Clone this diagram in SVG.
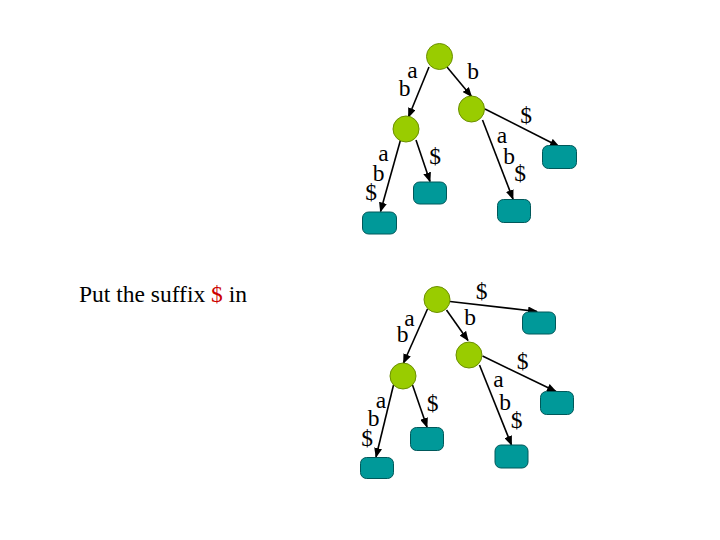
<svg xmlns="http://www.w3.org/2000/svg" width="720" height="540" viewBox="0 0 720 540">
<style>
.in{fill:#99cc00;stroke:#6b8f00;stroke-width:1}
.lf{fill:#009999;stroke:#00585a;stroke-width:1}
.e{stroke:#000;stroke-width:1.6;fill:none;marker-end:url(#ah)}
text{font-family:"Liberation Serif","Times New Roman",serif;font-size:23.5px;fill:#000;text-anchor:middle}
.red{fill:#cc0000}
</style>
<defs>
<marker id="ah" markerWidth="10" markerHeight="8" refX="9" refY="4" orient="auto" markerUnits="userSpaceOnUse">
<path d="M0,0 L10,4 L0,8 Z" fill="#000"/>
</marker>
</defs>
<rect width="720" height="540" fill="#fff"/>
<text x="79" y="302" style="text-anchor:start">Put the suffix <tspan class="red">$</tspan> in</text>
<g id="edges">
<line class="e" x1="429" y1="67" x2="408.5" y2="117"/>
<line class="e" x1="447" y1="67" x2="471.5" y2="96.5"/>
<line class="e" x1="485" y1="109" x2="559" y2="146.5"/>
<line class="e" x1="482.5" y1="120" x2="513" y2="199"/>
<line class="e" x1="400.5" y1="140" x2="380.5" y2="211.5"/>
<line class="e" x1="416" y1="140" x2="430" y2="181.5"/>
<line class="e" x1="450" y1="301.5" x2="537" y2="311.5"/>
<line class="e" x1="427.5" y1="309" x2="403.5" y2="363"/>
<line class="e" x1="446.5" y1="310" x2="468" y2="340.5"/>
<line class="e" x1="482.5" y1="356" x2="556" y2="391.5"/>
<line class="e" x1="479.5" y1="365" x2="511.5" y2="445"/>
<line class="e" x1="393.5" y1="385" x2="376" y2="457"/>
<line class="e" x1="412.5" y1="385" x2="427" y2="427"/>
</g>
<g id="top-root"><circle class="in" cx="439.5" cy="56.5" r="13"/></g>
<g id="top-right"><circle class="in" cx="471.5" cy="109" r="13"/></g>
<g id="top-left"><circle class="in" cx="406" cy="129" r="13"/></g>
<g id="top-leaf-ll"><rect class="lf" x="362.5" y="212" width="34" height="22" rx="6"/></g>
<g id="top-leaf-lr"><rect class="lf" x="413.5" y="182" width="33" height="22" rx="6"/></g>
<g id="top-leaf-rl"><rect class="lf" x="497.5" y="199.5" width="33" height="23" rx="6"/></g>
<g id="top-leaf-rr"><rect class="lf" x="542.5" y="145.5" width="34" height="23" rx="6"/></g>
<g id="bot-root"><circle class="in" cx="437" cy="299.5" r="13"/></g>
<g id="bot-right"><circle class="in" cx="469" cy="355" r="13"/></g>
<g id="bot-left"><circle class="in" cx="403" cy="376" r="13"/></g>
<g id="bot-leaf-top"><rect class="lf" x="522.5" y="312" width="33" height="22" rx="6"/></g>
<g id="bot-leaf-rr"><rect class="lf" x="540.5" y="391.5" width="33" height="23" rx="6"/></g>
<g id="bot-leaf-rl"><rect class="lf" x="495" y="445" width="33" height="23" rx="6"/></g>
<g id="bot-leaf-lr"><rect class="lf" x="410.5" y="427.5" width="33" height="23" rx="6"/></g>
<g id="bot-leaf-ll"><rect class="lf" x="360.5" y="457.5" width="33" height="21" rx="6"/></g>
<g id="labels">
<text x="412.5" y="78">a</text>
<text x="404.5" y="96">b</text>
<text x="473" y="79">b</text>
<text x="526" y="123">$</text>
<text x="502" y="143">a</text>
<text x="509" y="164">b</text>
<text x="520" y="181">$</text>
<text x="383.5" y="161">a</text>
<text x="378.5" y="181">b</text>
<text x="371" y="199.5">$</text>
<text x="435" y="164">$</text>
<text x="481.5" y="298.5">$</text>
<text x="409.5" y="325.5">a</text>
<text x="402.5" y="342">b</text>
<text x="470" y="324.5">b</text>
<text x="522.5" y="368.5">$</text>
<text x="498.5" y="387">a</text>
<text x="505" y="409.5">b</text>
<text x="516.5" y="428">$</text>
<text x="381" y="407.5">a</text>
<text x="373.5" y="426">b</text>
<text x="367" y="446">$</text>
<text x="432.5" y="411">$</text>
</g>
</svg>
